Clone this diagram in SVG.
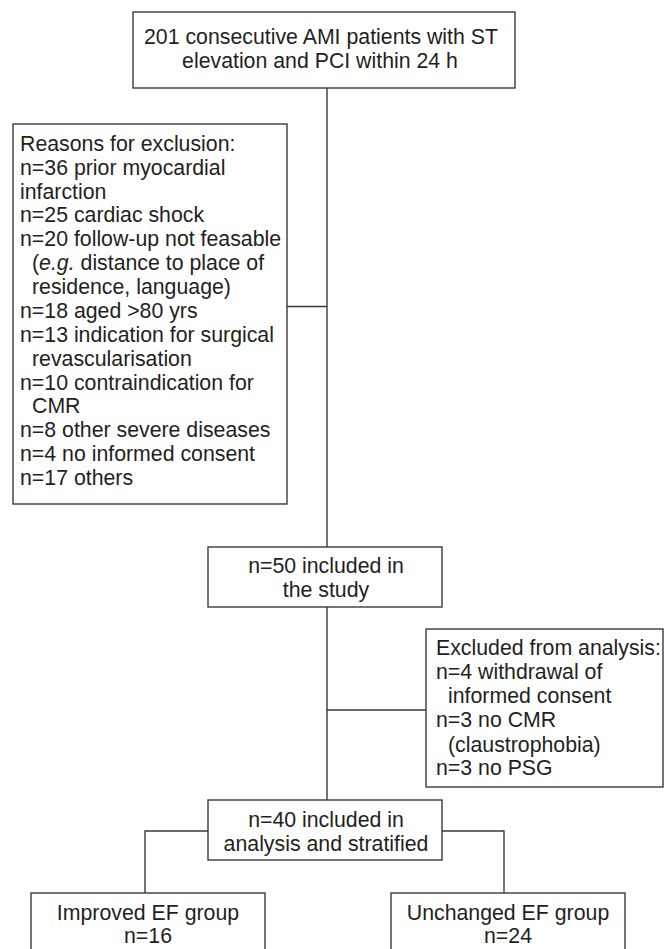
<svg xmlns="http://www.w3.org/2000/svg" width="664" height="949" viewBox="0 0 664 949">
<style>
.box{fill:#fff;stroke:#3a3a3a;stroke-width:1.4}
.con{fill:none;stroke:#3a3a3a;stroke-width:1.4}
text{font-family:"Liberation Sans",Arial,Helvetica,sans-serif;font-size:21.3px;fill:#231f20}
.c{text-anchor:middle}
</style>
<rect width="664" height="949" fill="#fff"/>
<g id="connectors">
<path class="con" d="M327,88 V547"/>
<path class="con" d="M287,306.5 H327"/>
<path class="con" d="M327,607 V800"/>
<path class="con" d="M327,710 H426"/>
<path class="con" d="M208,831 H145 V893"/>
<path class="con" d="M442,831 H504 V893"/>
</g>
<g id="n201">
<rect class="box" x="133" y="12" width="382" height="76"/>
<text class="c" x="321" y="44">201 consecutive AMI patients with ST</text>
<text class="c" x="320" y="67.5">elevation and PCI within 24 h</text>
</g>
<g id="exclusion">
<rect class="box" x="13" y="124" width="274" height="380"/>
<text x="20" y="150.7">Reasons for exclusion:</text>
<text x="20" y="174.6">n=36 prior myocardial</text>
<text x="20" y="198.5">infarction</text>
<text x="20" y="222.3">n=25 cardiac shock</text>
<text x="20" y="246.2">n=20 follow-up not feasable</text>
<text x="32" y="270.1">(<tspan font-style="italic">e.g.</tspan> distance to place of</text>
<text x="32" y="294">residence, language)</text>
<text x="20" y="317.9">n=18 aged &gt;80 yrs</text>
<text x="20" y="341.7">n=13 indication for surgical</text>
<text x="32" y="365.6">revascularisation</text>
<text x="20" y="389.5">n=10 contraindication for</text>
<text x="32" y="413.4">CMR</text>
<text x="20" y="437.3">n=8 other severe diseases</text>
<text x="20" y="461.1">n=4 no informed consent</text>
<text x="20" y="485">n=17 others</text>
</g>
<g id="n50">
<rect class="box" x="208" y="547" width="234" height="60"/>
<text class="c" x="326" y="573">n=50 included in</text>
<text class="c" x="326" y="596.5">the study</text>
</g>
<g id="excluded-analysis">
<rect class="box" x="426" y="629" width="237" height="158"/>
<text x="436" y="655">Excluded from analysis:</text>
<text x="436" y="679">n=4 withdrawal of</text>
<text x="448" y="703">informed consent</text>
<text x="436" y="727">n=3 no CMR</text>
<text x="448" y="751.5">(claustrophobia)</text>
<text x="436" y="775">n=3 no PSG</text>
</g>
<g id="n40">
<rect class="box" x="208" y="800" width="234" height="60"/>
<text class="c" x="326" y="826.7">n=40 included in</text>
<text class="c" x="326" y="850.7">analysis and stratified</text>
</g>
<g id="improved">
<rect class="box" x="31" y="893" width="234" height="80"/>
<text class="c" x="148" y="920">Improved EF group</text>
<text class="c" x="148" y="943">n=16</text>
</g>
<g id="unchanged">
<rect class="box" x="391" y="893" width="234" height="80"/>
<text class="c" x="508" y="920">Unchanged EF group</text>
<text class="c" x="508" y="943">n=24</text>
</g>
</svg>
